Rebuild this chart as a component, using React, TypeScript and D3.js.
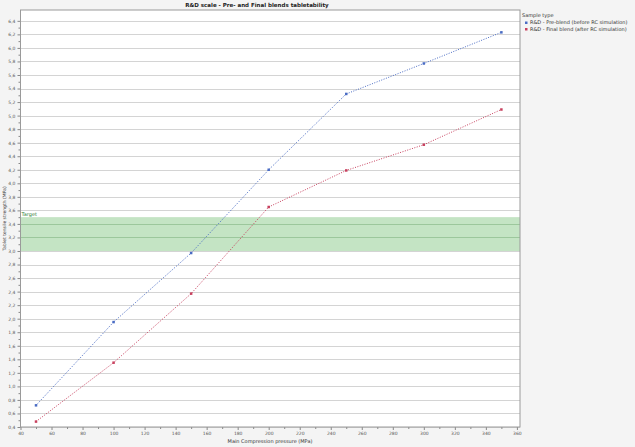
import React, { useEffect, useRef } from 'react';
import * as d3 from 'd3';

const pressures = [50, 100, 150, 200, 250, 300, 350];
const preBlend = [0.72, 1.95, 2.97, 4.2, 5.32, 5.77, 6.23];
const finalBlend = [0.48, 1.35, 2.37, 3.65, 4.19, 4.57, 5.09];
const seriesNames = ['R&D - Pre-blend (before RC simulation)', 'R&D - Final blend (after RC simulation)'];
const seriesColors = ['#4a6cc4', '#c8405e'];
const targetRange = [3.0, 3.5];
const xTicks = d3.range(40, 361, 20);
const yTicks = d3.range(0.4, 6.41, 0.2);

const W = 635;
const H = 447;

const App: React.FC = () => {
  const svgRef = useRef<SVGSVGElement>(null);

  useEffect(() => {
    if (!svgRef.current) return;
    const svg = d3.select(svgRef.current);
    svg.selectAll('*').remove();

    const left = 20.5, right = 520, top = 10, bottom = 427;
    const font = 'DejaVu Sans, sans-serif';

    svg.append('rect').attr('width', W).attr('height', H).attr('fill', '#f4f4f4');

    const x = d3.scaleLinear().domain([40, 362]).range([left, right]);
    const y = d3.scaleLinear().domain([0.4, 6.56]).range([bottom, top]);

    // plot area
    svg.append('rect')
      .attr('x', left).attr('y', top)
      .attr('width', right - left).attr('height', bottom - top)
      .attr('fill', '#fff');

    // target band
    svg.append('rect')
      .attr('x', left).attr('y', y(targetRange[1]))
      .attr('width', right - left)
      .attr('height', y(targetRange[0]) - y(targetRange[1]))
      .attr('fill', '#c4e4c4');

    // grid lines
    yTicks.forEach(v => {
      const inBand = v > targetRange[0] + 0.01 && v < targetRange[1] - 0.01;
      svg.append('line')
        .attr('x1', left).attr('x2', right)
        .attr('y1', Math.round(y(v)) + 0.5).attr('y2', Math.round(y(v)) + 0.5)
        .attr('stroke', inBand ? '#9cc79c' : '#d4d4d4')
        .attr('stroke-width', 1);
    });

    svg.append('text')
      .attr('x', left + 1).attr('y', y(targetRange[1]) - 1)
      .attr('font-family', font).attr('font-size', 5)
      .attr('fill', '#2e7d32')
      .text('Target');

    // axes
    const fmt = (v: number) => d3.format('.1f')(v).replace('.', ',');
    const yAxis = svg.append('g')
      .attr('transform', `translate(${left},0)`)
      .call(d3.axisLeft(y).tickValues(yTicks).tickSize(3).tickPadding(2).tickFormat(d => fmt(+d)));
    yAxis.append('g').call(d3.axisLeft(y).tickValues(d3.range(0.5, 6.5, 0.2)).tickSize(2).tickFormat(() => ''));

    const xAxis = svg.append('g')
      .attr('transform', `translate(0,${bottom})`)
      .call(d3.axisBottom(x).tickValues(xTicks).tickSize(3).tickPadding(2).tickFormat(d => String(d)));
    xAxis.append('g').call(d3.axisBottom(x).tickValues(d3.range(50, 361, 20)).tickSize(2).tickFormat(() => ''));

    svg.selectAll('.domain').remove();
    svg.selectAll('.tick line').attr('stroke', '#888');
    svg.selectAll('.tick text')
      .attr('font-family', font).attr('font-size', 4.5).attr('fill', '#555');

    // frame
    svg.append('rect')
      .attr('x', left).attr('y', top)
      .attr('width', right - left).attr('height', bottom - top)
      .attr('fill', 'none').attr('stroke', '#9a9a9a').attr('stroke-width', 1);

    // series
    const line = d3.line<[number, number]>().x(d => x(d[0])).y(d => y(d[1]));
    [preBlend, finalBlend].forEach((vals, i) => {
      const pts = pressures.map((p, j) => [p, vals[j]] as [number, number]);
      svg.append('path')
        .attr('d', line(pts))
        .attr('fill', 'none')
        .attr('stroke', seriesColors[i])
        .attr('stroke-width', 1)
        .attr('stroke-dasharray', '1,1.5');
      svg.selectAll(`.pt${i}`)
        .data(pts).enter().append('rect')
        .attr('x', d => x(d[0]) - 1.25).attr('y', d => y(d[1]) - 1.25)
        .attr('width', 2.5).attr('height', 2.5)
        .attr('fill', seriesColors[i]);
    });

    // titles
    svg.append('text')
      .attr('x', 257).attr('y', 7)
      .attr('text-anchor', 'middle')
      .attr('font-family', font).attr('font-size', 5.5).attr('font-weight', 'bold')
      .attr('fill', '#222')
      .text('R&D scale - Pre- and Final blends tabletability');

    svg.append('text')
      .attr('x', 270).attr('y', 443)
      .attr('text-anchor', 'middle')
      .attr('font-family', font).attr('font-size', 5).attr('fill', '#333')
      .text('Main Compression pressure (MPa)');

    svg.append('text')
      .attr('transform', `translate(6,${(top + bottom) / 2}) rotate(-90)`)
      .attr('text-anchor', 'middle')
      .attr('font-family', font).attr('font-size', 4.5).attr('fill', '#333')
      .text('Tablet tensile strength (MPa)');

    // legend
    const lg = svg.append('g').attr('transform', 'translate(522,0)');
    lg.append('text').attr('x', 0).attr('y', 17)
      .attr('font-family', font).attr('font-size', 5).attr('fill', '#333')
      .text('Sample type');
    seriesNames.forEach((name, i) => {
      const yy = 24 + i * 6.5;
      lg.append('rect').attr('x', 3).attr('y', yy - 2.5).attr('width', 2.5).attr('height', 2.5)
        .attr('fill', seriesColors[i]);
      lg.append('text').attr('x', 8).attr('y', yy)
        .attr('font-family', font).attr('font-size', 5).attr('fill', '#333')
        .text(name);
    });
  }, []);

  return (
    <svg
      ref={svgRef}
      width={W}
      height={H}
      style={{ position: 'absolute', left: 0, top: 0, display: 'block' }}
    />
  );
};

export default App;
